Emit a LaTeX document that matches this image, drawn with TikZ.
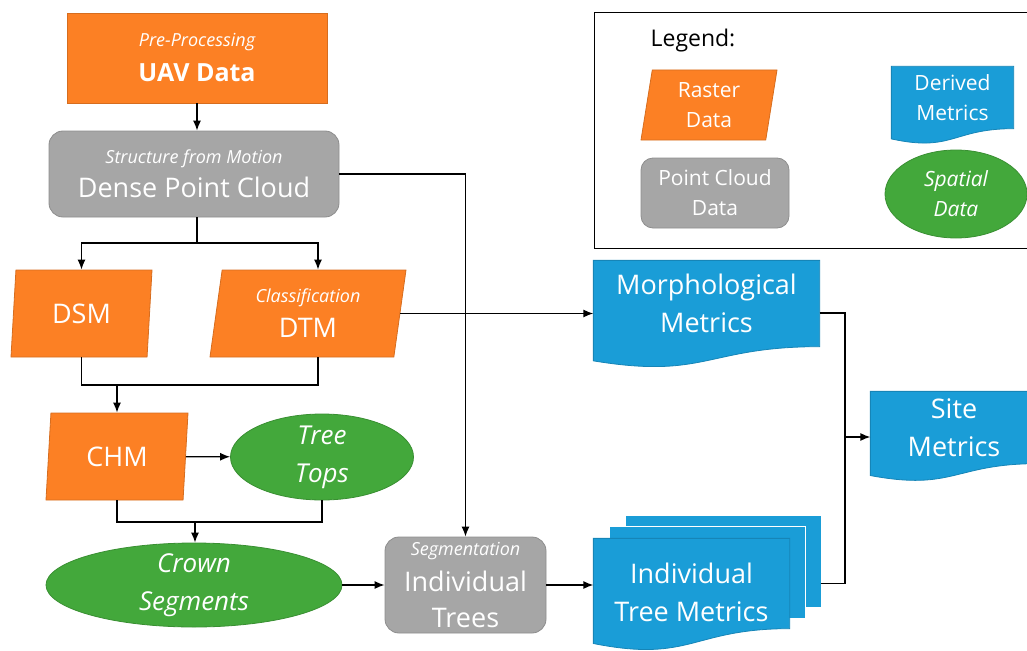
\documentclass[tikz,border=0pt]{standalone}
\usepackage{fontspec}
\setmainfont{Open Sans}
\usetikzlibrary{shapes.geometric,arrows.meta,backgrounds,calc}

\definecolor{rasterorange}{RGB}{252,128,36}
\definecolor{cloudgray}{RGB}{166,166,166}
\definecolor{spatialgreen}{RGB}{67,168,59}
\definecolor{metricblue}{RGB}{26,157,215}

\newcommand\notefont{\fontsize{18}{22}\selectfont\itshape}

% document shape: the node gives the flat part (moved by #2), the wavy edge hangs below it
\newcommand\docshape[2]{%
  \path[docfill] let \p1=($(#1.north west)+(0,#2)$), \p2=($(#1.south east)+(0,#2)$) in
    (\p1) -- (\x2,\y1) -- (\p2)
    .. controls ({0.5*\x1+0.5*\x2},\y2) and ({0.5*\x1+0.5*\x2},{1.381*\y2-0.381*\y1})
    .. (\x1,{1.1646*\y2-0.1646*\y1}) -- cycle;}

\begin{document}
\begin{tikzpicture}[x=1pt,y=-1pt,line width=1.3pt,>={Latex[length=10pt,width=8pt]},
  every node/.style={text=white,align=center,inner sep=0pt},
  raster/.style={trapezium,trapezium left angle=76,trapezium right angle=104,
    trapezium stretches body,fill=rasterorange,draw=rasterorange!85!black,
    line width=0.8pt,minimum height=87pt},
  pcloud/.style={rectangle,rounded corners=14pt,fill=cloudgray,
    draw=cloudgray!85!black,line width=0.8pt},
  spatial/.style={ellipse,inner sep=-3pt,fill=spatialgreen,
    draw=spatialgreen!85!black,line width=0.8pt,font=\fontsize{26}{38}\selectfont\itshape},
  metric/.style={rectangle},
  docfill/.style={fill=metricblue,draw=metricblue!85!black,line width=0.8pt},
  bigtext/.style={font=\fontsize{27}{38}\selectfont},
  keytext/.style={font=\fontsize{21}{30}\selectfont}]
\useasboundingbox (0,0) rectangle (1027,650);

% processing chain
\node[rectangle,fill=rasterorange,draw=rasterorange!85!black,line width=0.8pt,
  minimum width=260pt,minimum height=90pt,font=\fontsize{25}{35}\selectfont\bfseries]
  (uav) at (197,58) {{\mdseries\notefont Pre-Processing}\\UAV Data};
\node[pcloud,minimum width=290pt,minimum height=86pt,font=\fontsize{27}{34}\selectfont]
  (dpc) at (194,174) {{\notefont Structure from Motion}\\Dense Point Cloud};
\node[raster,minimum width=141pt,bigtext] (dsm) at (81.5,313.5) {DSM};
\node[raster,minimum width=196pt,font=\fontsize{27}{35}\selectfont]
  (dtm) at (308,313.5) {{\notefont Classification}\\DTM};
\node[raster,minimum width=142pt,bigtext] (chm) at (117,456.5) {CHM};
\node[spatial,minimum width=183pt,minimum height=86pt] (tops) at (322,457) {Tree\\Tops};
\node[spatial,minimum width=296pt,minimum height=84pt] (crown) at (194,585) {Crown\\Segments};
\node[pcloud,minimum width=161pt,minimum height=96pt,font=\fontsize{27}{36}\selectfont]
  (indiv) at (465.5,585) {{\notefont Segmentation}\\Individual\\Trees};

% derived metrics
\node[metric,minimum width=225pt,minimum height=85pt,bigtext] (morph) at (706.5,303.5) {Morphological\\Metrics};
\node[metric,minimum width=166pt,minimum height=71pt,bigtext] (site) at (954,427.5) {Site\\Metrics};
\node[metric,minimum width=195pt,minimum height=89pt,bigtext] (itm) at (691.5,592.5) {Individual\\Tree Metrics};

% legend
\draw[line width=1pt] (594,13) rectangle (1030,248);
\node[text=black,anchor=base west,font=\fontsize{23}{28}\selectfont] (legendtitle) at (650,47) {Legend:};
\node[raster,minimum width=136pt,minimum height=70pt,keytext] (rasterkey) at (709,105) {Raster\\Data};
\node[pcloud,rounded corners=12pt,minimum width=148pt,minimum height=70pt,keytext] (cloudkey) at (715,193) {Point Cloud\\Data};
\node[metric,minimum width=121pt,minimum height=61pt,keytext] (derivedkey) at (952.5,97.5) {Derived\\Metrics};
\node[spatial,inner sep=-2pt,minimum width=142pt,minimum height=88pt,font=\fontsize{21}{30}\selectfont\itshape]
  (spatialkey) at (956,194) {Spatial\\Data};

\begin{scope}[on background layer]
  \fill[metricblue,draw=white,line width=1.2pt] ([shift={(32,-32)}]itm.north west) rectangle ([shift={(32,-30)}]itm.south east);
  \fill[metricblue,draw=white,line width=1.2pt] ([shift={(16,-21)}]itm.north west) rectangle ([shift={(16,-19)}]itm.south east);
  \docshape{itm}{-9}
  \docshape{morph}{0}
  \docshape{site}{0}
  \docshape{derivedkey}{0}
\end{scope}

\coordinate (fork1) at (197,243);
\coordinate (fork2) at (117,385);
\coordinate (fork3) at (195,522);
\coordinate (join) at (845,437);
\coordinate (itmedge) at ([shift={(31,-9)}]itm.east);

\draw[->] (uav) -- (uav |- dpc.north);
\draw (fork1 |- dpc.south) -- (fork1);
\draw[->] (fork1) -| (dsm.center |- dsm.north);
\draw[->] (fork1) -| ([xshift=10pt]dtm.center |- dtm.north);
\draw (dsm.center |- dsm.south) |- (fork2);
\draw ([xshift=10pt]dtm.center |- dtm.south) |- (fork2);
\draw[->] (fork2) -- (chm.center |- chm.north);
\draw[->] (chm) -- (tops);
\draw (chm.center |- chm.south) |- (tops.south |- fork3) -- (tops.south);
\draw[->] (fork3) -- (fork3 |- crown.north);
\draw[->] (crown) -- (indiv);
\draw[->] (dpc.east) -| (indiv.north);
\draw[->] (dtm.east) -- (dtm.east -| morph.west);
\draw[->] (indiv) -- (indiv -| itm.west);
\draw ([yshift=-9.5pt]morph.east) -| (join);
\draw (itmedge) -| (join);
\draw[->] (join) -- (join -| site.west);
\end{tikzpicture}
\end{document}
